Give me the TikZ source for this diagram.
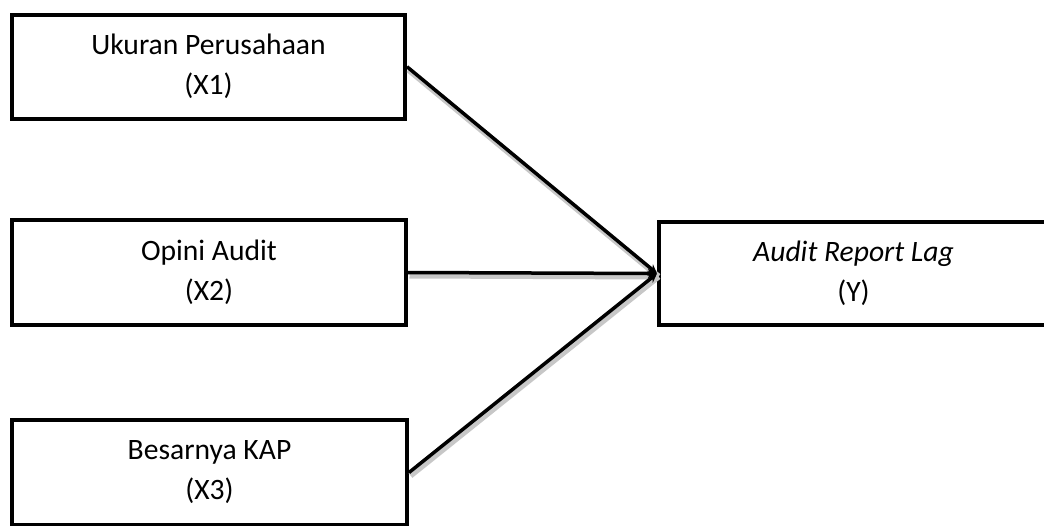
\documentclass[tikz,border=0pt]{standalone}
\usepackage{fontspec}
\setmainfont{Carlito}
\usetikzlibrary{arrows.meta}
\tikzset{
  varbox/.style={draw=black, line width=4pt, rectangle, align=center, inner sep=0pt,
    font=\fontsize{29.6}{40}\selectfont},
  link/.style={draw=black, line width=3.5pt, -{Stealth[length=9pt,width=9pt]},
    preaction={draw=black!22, line width=6pt, -, transform canvas={shift={(1.5pt,-3pt)}}}}
}
\begin{document}
\begin{tikzpicture}[x=1pt, y=-1pt]
\useasboundingbox (0,0) rectangle (1044,525);
\node[varbox, minimum width=393pt, minimum height=104.5pt] (x1) at (208.5,66.75) {Ukuran Perusahaan\\(X1)};
\node[varbox, minimum width=394pt, minimum height=105pt] (x2) at (209,272.5) {Opini Audit\\(X2)};
\node[varbox, minimum width=395pt, minimum height=105pt] (x3) at (209.5,472.5) {Besarnya KAP\\(X3)};
\node[varbox, minimum width=389pt, minimum height=103pt] (y) at (853.5,273.5) {\textit{Audit Report Lag}\\(Y)};
\draw[link] (x1.east) -- (y.west);
\draw[link] (x2.east) -- (y.west);
\draw[link] (x3.east) -- (y.west);
\end{tikzpicture}
\end{document}
